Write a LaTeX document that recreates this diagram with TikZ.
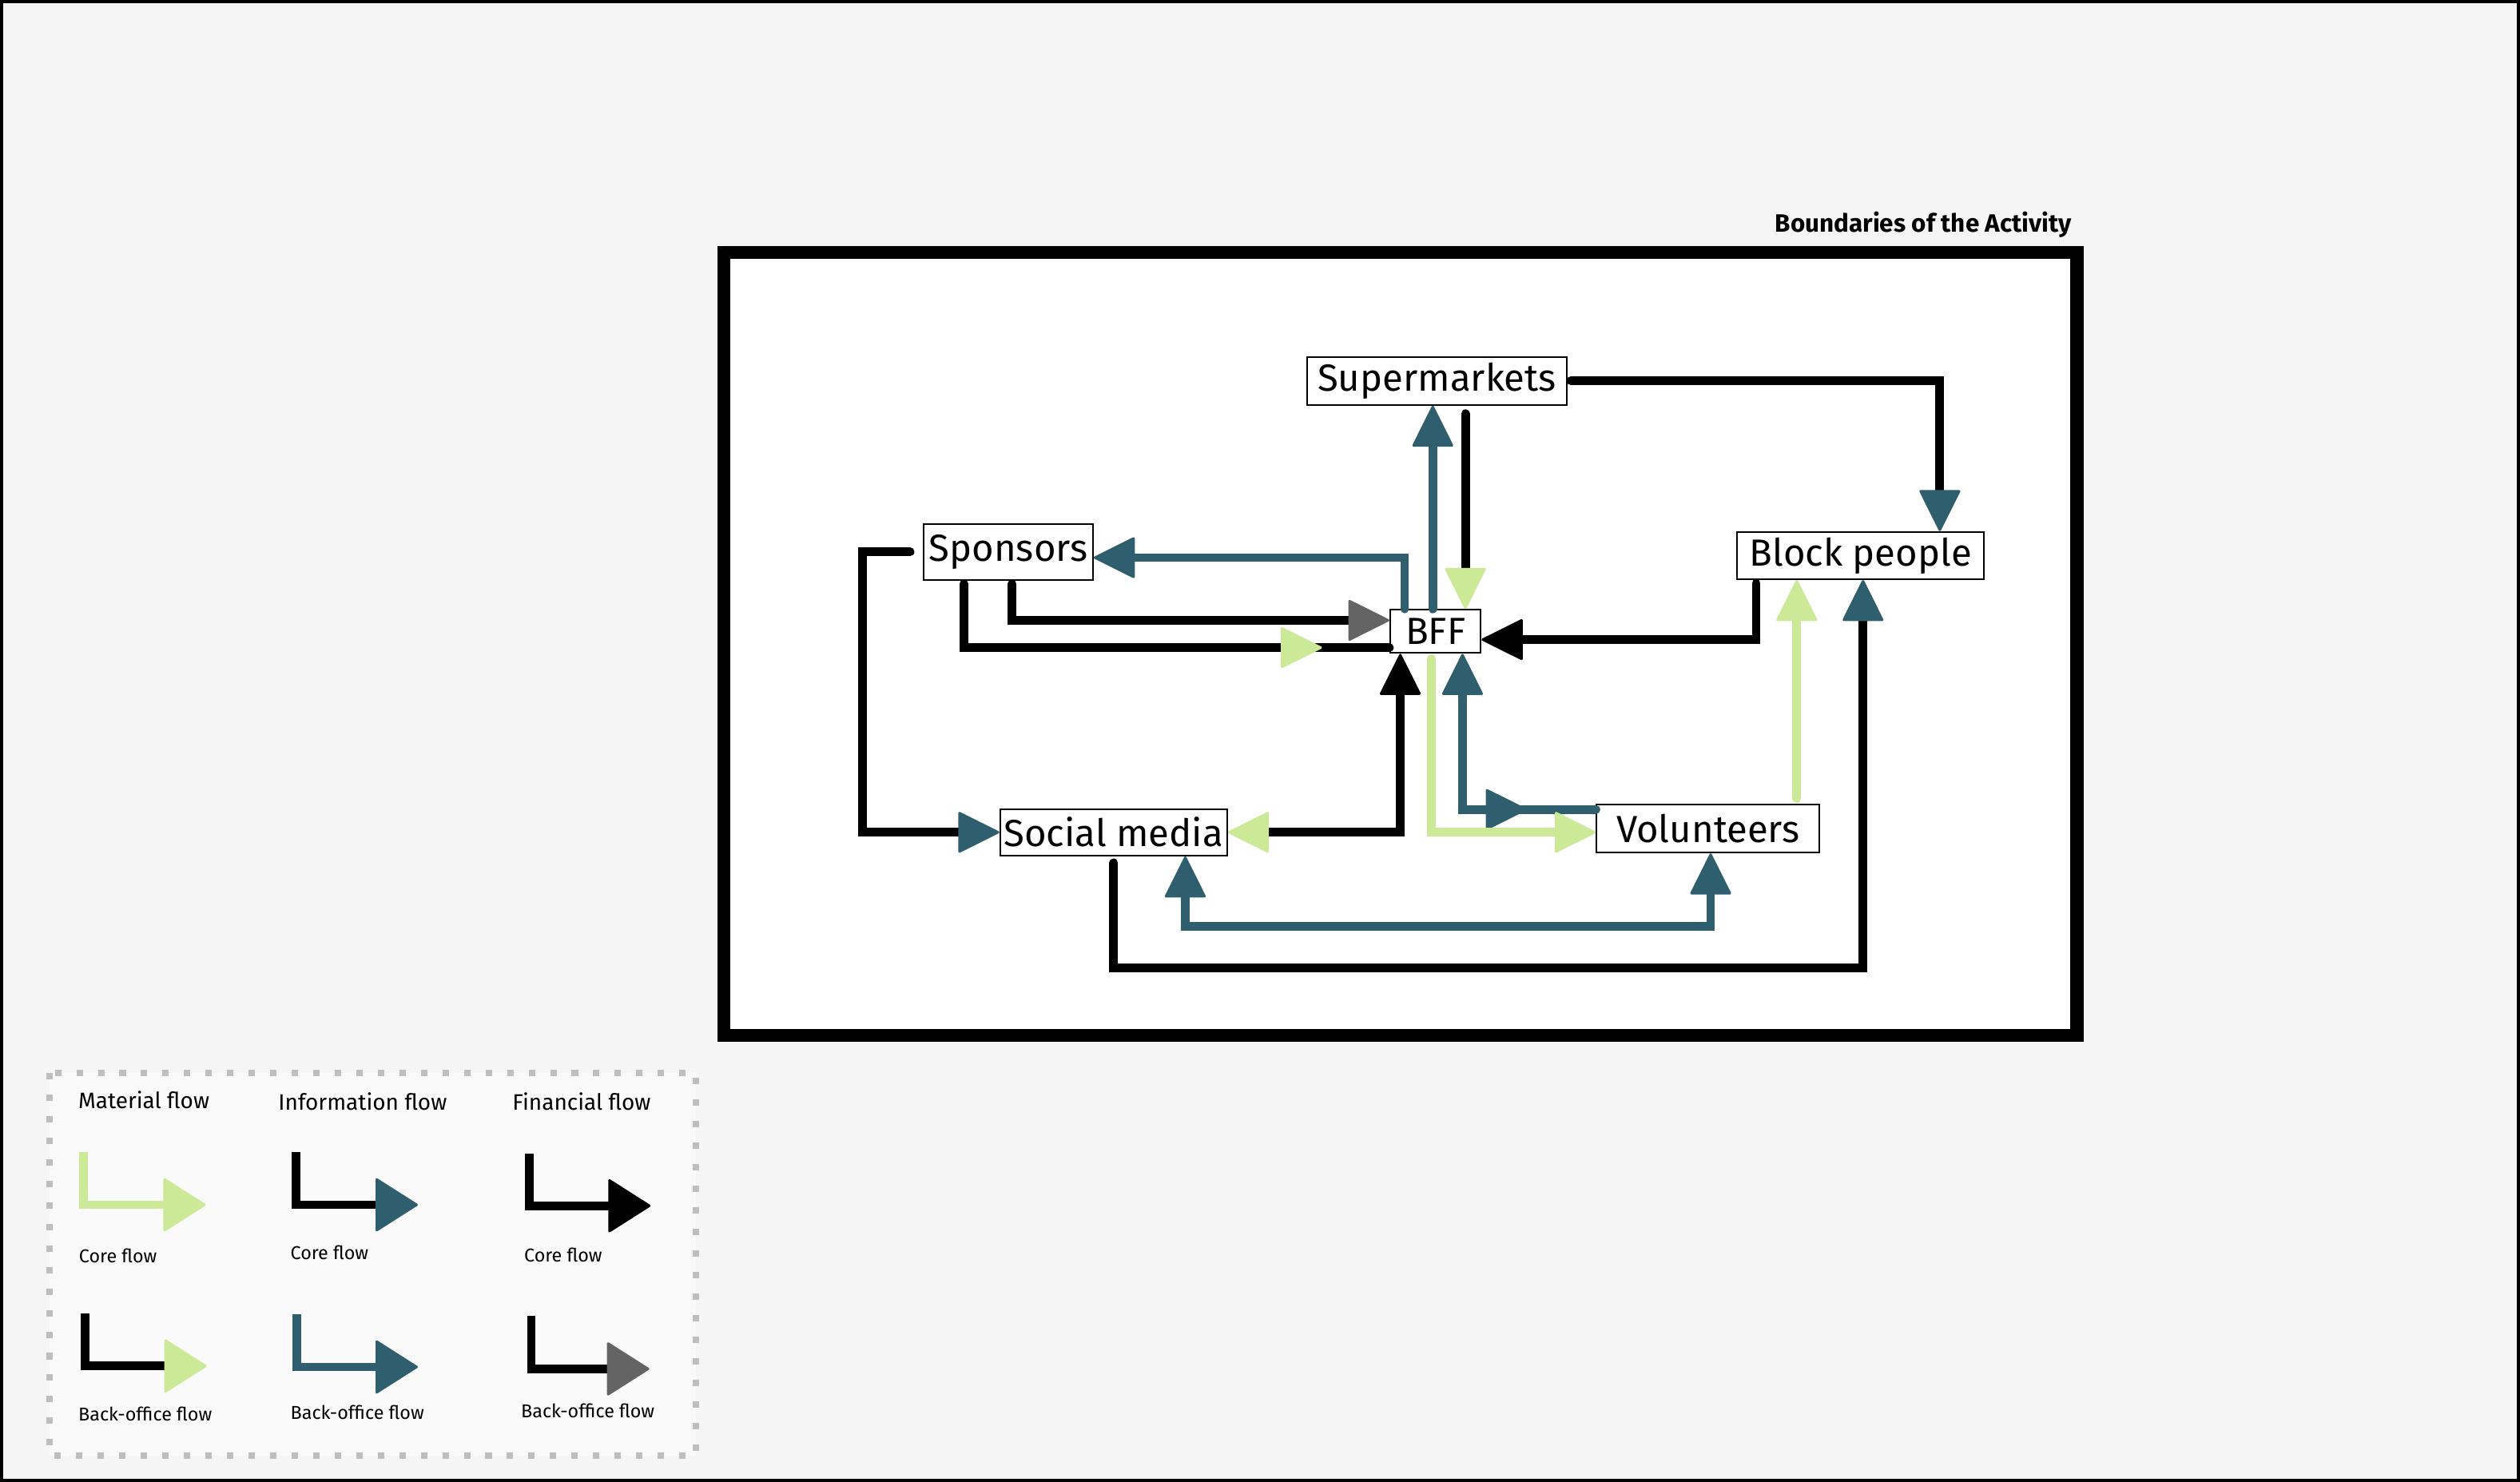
\documentclass[tikz,border=0pt]{standalone}
\usepackage{fontspec}
\setmainfont{Fira Sans}
\usetikzlibrary{arrows.meta, calc, decorations.markings}

\definecolor{matgreen}{RGB}{203,233,150}
\definecolor{infoblue}{RGB}{47,94,111}
\definecolor{fingray}{RGB}{100,100,100}
\definecolor{pagebg}{RGB}{245,245,245}
\definecolor{legbg}{RGB}{250,250,250}
\definecolor{dotgray}{RGB}{190,190,190}

\tikzset{
  ebox/.style={rectangle, draw, fill=white, line width=1pt, inner sep=0pt,
               font=\fontsize{23.5}{28}\selectfont},
  bound/.style={rectangle, draw, fill=white, line width=8pt, outer sep=0pt},
  lhead/.style={anchor=base west, inner sep=0pt, font=\fontsize{13.9}{17}\selectfont},
  lsub/.style={anchor=base west, inner sep=0pt, font=\fontsize{11.6}{14}\selectfont},
  flow/.style={line width=5.4pt, line cap=round},
  matl/.style={flow, draw=matgreen},
  infl/.style={flow, draw=infoblue},
  finl/.style={flow, draw=black},
  mtip/.tip={Triangle[length=26.5pt, width=26pt, round, line width=1.5pt, color=matgreen]},
  itip/.tip={Triangle[length=26.5pt, width=26pt, round, line width=1.5pt, color=infoblue]},
  ftip/.tip={Triangle[length=26.5pt, width=26pt, round, line width=1.5pt, color=black]},
  gtip/.tip={Triangle[length=26.5pt, width=26pt, round, line width=1.5pt, color=fingray]},
  lmtip/.tip={Triangle[length=27pt, width=34pt, round, line width=1.5pt, color=matgreen]},
  litip/.tip={Triangle[length=27pt, width=34pt, round, line width=1.5pt, color=infoblue]},
  lftip/.tip={Triangle[length=27pt, width=34pt, round, line width=1.5pt, color=black]},
  lgtip/.tip={Triangle[length=27pt, width=34pt, round, line width=1.5pt, color=fingray]},
  midtip/.style 2 args={postaction={decorate, decoration={markings,
               mark=at position #1 with {\arrow{#2}}}}}
}

\begin{document}
\begin{tikzpicture}[x=1pt, y=-1pt]
  \useasboundingbox (0,0) rectangle (1568,922);
  \draw[fill=pagebg, line width=4pt] (0,0) rectangle (1568,922);

  %% -- Boundary of the activity --
  \node[bound, minimum width=841.9pt, minimum height=487.4pt] (act) at (871.35,400.8) {};
  \node[anchor=base east, inner sep=0pt, font=\fontsize{15.6}{18}\selectfont\bfseries]
    (actlbl) at ([xshift=-3.3pt, yshift=12.5pt]act.north east) {Boundaries of the Activity};

  %% -- Actors --
  \node[ebox, minimum width=161.6pt, minimum height=29.8pt] (sup) at (894.1,237.0) {Supermarkets};
  \node[ebox, minimum width=105.3pt, minimum height=34.8pt] (spo) at (627.4,343.4) {Sponsors};
  \node[ebox, minimum width=56.4pt,  minimum height=26.9pt] (bff) at (893.2,392.9) {BFF};
  \node[ebox, minimum width=153.4pt, minimum height=29.4pt] (blk) at (1157.7,345.7) {Block people};
  \node[ebox, minimum width=141.2pt, minimum height=29pt]   (soc) at (692.9,517.9) {Social media};
  \node[ebox, minimum width=138.6pt, minimum height=30.1pt] (vol) at (1062.8,515.5) {Volunteers};

  %% -- Flows around the supermarkets --
  \draw[finl, -{itip}, shorten <=2pt] (sup.east) -| ([xshift=49.3pt]blk.north);
  \draw[infl, -{itip}] ([xshift=-1.7pt]bff.north) -- ([xshift=-1.7pt]bff.north |- sup.south);
  \draw[finl, -{mtip}, shorten <=5pt] ([xshift=17.7pt]sup.south) -- ([xshift=17.7pt]sup.south |- bff.north);

  %% -- Flows around the sponsors --
  \draw[infl, -{itip}] ([xshift=-19.2pt]bff.north) |- ([yshift=-3.6pt]spo.east);
  \draw[finl, -{gtip}, shorten <=2pt] ([xshift=2.3pt]spo.south) |- ([yshift=6.9pt]bff.west);
  \draw[finl, shorten <=2pt, midtip={-42pt}{mtip}] ([xshift=-27.7pt]spo.south) |- ([yshift=-10.1pt]bff.west);
  \draw[finl, -{itip}, shorten <=8pt] (spo.west) -- ++(-37.8,0) |- (soc.west);

  %% -- Flows around the block people --
  \draw[finl, -{ftip}, shorten <=2pt] ([xshift=-65pt]blk.south) |- ([yshift=-5.1pt]bff.east);
  \draw[matl, -{mtip}, shorten <=3pt] ([xshift=55.2pt]vol.north) -- ([xshift=55.2pt]vol.north |- blk.south);
  \draw[finl, -{itip}, shorten <=4pt] (soc.south) -- ++(0,69.4) -| ([xshift=1.5pt]blk.south);

  %% -- Flows around social media and volunteers --
  \draw[infl, {itip}-{itip}] ([xshift=44.6pt]soc.south) -- ++(0,43.7) -| ([xshift=1.6pt]vol.south);
  \draw[finl, {mtip}-{ftip}] (soc.east) -| ([xshift=-21.9pt]bff.south);
  \draw[infl, {itip}-, midtip={-43pt}{itip}] ([xshift=16.8pt]bff.south) |- ([yshift=11.8pt]vol.west);
  \draw[matl, -{mtip}, shorten <=3pt] ([xshift=-2.4pt]bff.south) |- ([yshift=-2.4pt]vol.west);

  %% -- Legend --
  \draw[draw=dotgray, fill=legbg, line width=4pt, dash pattern=on 4pt off 9.4pt]
    (30.7,667.7) rectangle (433,905.6);
  \node[lhead] (hmat) at (48.6,690)   {Material flow};
  \node[lhead] (hinf) at (173,691)    {Information flow};
  \node[lhead] (hfin) at (318.6,690.7) {Financial flow};
  \node[lsub] (cmat) at (49,785.5)    {Core flow};
  \node[lsub] (cinf) at (180.6,783.8) {Core flow};
  \node[lsub] (cfin) at (326,785)     {Core flow};
  \node[lsub] (bmat) at (48.6,884)    {Back-office flow};
  \node[lsub] (binf) at (180.6,883)   {Back-office flow};
  \node[lsub] (bfin) at (324,882)     {Back-office flow};

  \draw[matl, line cap=butt, -{lmtip}] (52,717)    |- (128,749.7);
  \draw[finl, line cap=butt, -{litip}] (184,717)   |- (260,749.7);
  \draw[finl, line cap=butt, -{lftip}] (329.4,718) |- (404.8,750.3);
  \draw[finl, line cap=butt, -{lmtip}] (52.8,817.3) |- (128.6,850);
  \draw[infl, line cap=butt, -{litip}] (184.6,818) |- (260,850.6);
  \draw[finl, line cap=butt, -{lgtip}] (330.6,819) |- (404,851.8);
\end{tikzpicture}
\end{document}
